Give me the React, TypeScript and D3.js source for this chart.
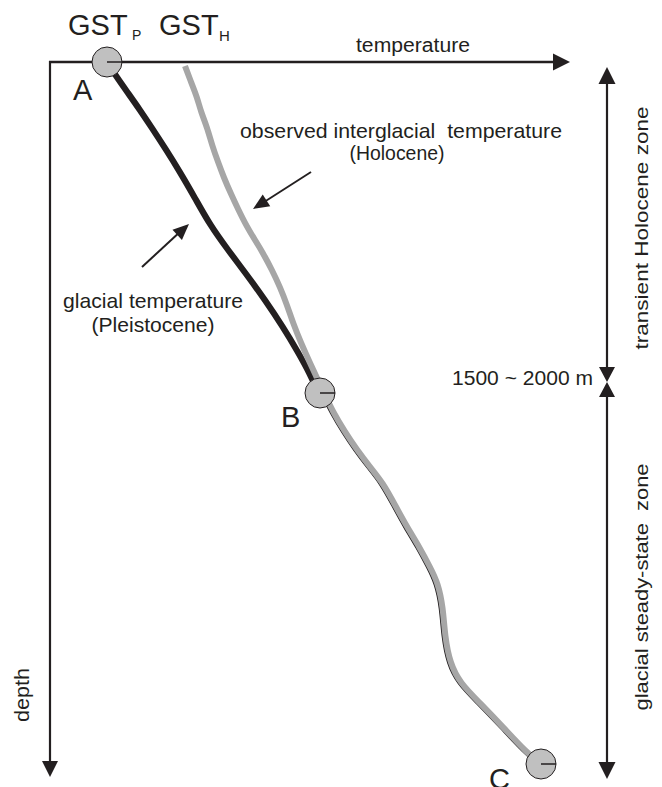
import React from 'react';
import * as d3 from 'd3';

// Schematic profile data (temperature units, depth units)
const holoceneTemp = [135, 141, 147, 151, 157, 162, 168, 174, 181, 188, 197, 205, 213, 222, 230, 237, 243, 251, 260, 268, 275, 283, 295, 307, 320, 333, 345, 357, 370, 380, 388, 393, 395, 400, 410, 430, 453, 477, 491];
const holoceneDepth = [4, 20, 35, 50, 65, 83, 100, 116, 132, 147, 165, 178, 191, 208, 225, 243, 261, 281, 301, 318, 333, 350, 370, 388, 405, 421, 443, 465, 486, 505, 521, 545, 575, 601, 621, 641, 665, 691, 702];
const pleistoceneTemp = [57, 66, 78, 90, 102, 115, 130, 145, 160, 178, 197, 215, 233, 248, 260, 268];
const pleistoceneDepth = [0, 14, 31, 48, 66, 86, 110, 136, 163, 188, 213, 238, 265, 290, 312, 330];
const stationNames = ['A', 'B', 'C'];
const stationTemp = [57, 270, 491];
const stationDepth = [0, 331, 702];
const zoneTop = 5;
const zoneBoundary = 320;
const zoneBottom = 717;
const boundaryLabel = '1500 ~ 2000 m';

const W = 662;
const H = 787;
const INK = '#231f20';
const FONT = '"Liberation Sans", Arial, Helvetica, sans-serif';

const x = d3.scaleLinear().domain([0, 520]).range([50, 570]);
const y = d3.scaleLinear().domain([0, 715]).range([62, 777]);

function head(tx: number, ty: number, fx: number, fy: number, len = 16, hw = 8) {
  const a = Math.atan2(ty - fy, tx - fx);
  const bx = tx - len * Math.cos(a);
  const by = ty - len * Math.sin(a);
  const px = -Math.sin(a) * hw;
  const py = Math.cos(a) * hw;
  return `${tx},${ty} ${bx + px},${by + py} ${bx - px},${by - py}`;
}

export default function App() {
  const line = d3
    .line<[number, number]>()
    .x((d) => x(d[0]))
    .y((d) => y(d[1]))
    .curve(d3.curveBasis);

  const holo: [number, number][] = holoceneTemp.map((t, i) => [t, holoceneDepth[i]]);
  const pleis: [number, number][] = pleistoceneTemp.map((t, i) => [t, pleistoceneDepth[i]]);
  const holoLower = holo.filter((d) => d[1] >= stationDepth[1] - 5);

  const ox = x(0);
  const oy = y(0);
  const xEnd = x(520);
  const yEnd = y(715);
  const zx = 607;
  const zTop = y(zoneTop);
  const zMid = y(zoneBoundary);
  const zBot = y(zoneBottom);

  const holoArrow = { fx: 311, fy: 172, tx: 253, ty: 209 };
  const pleiArrow = { fx: 142, fy: 267, tx: 189, ty: 224 };

  return (
    <svg width={W} height={H} style={{ position: 'absolute', left: 0, top: 0, background: '#fff' }} fontFamily={FONT}>
      <rect width={W} height={H} fill="#fff" />
      {/* axes */}
      <line x1={ox - 1} y1={oy} x2={xEnd - 14} y2={oy} stroke={INK} strokeWidth={2.6} />
      <polygon points={head(xEnd, oy, ox, oy, 17, 8.5)} fill={INK} />
      <line x1={ox} y1={oy - 1} x2={ox} y2={yEnd - 14} stroke={INK} strokeWidth={2.2} />
      <polygon points={head(ox, yEnd, ox, oy, 16, 8)} fill={INK} />
      <text x={356} y={52} fontSize={20} fill={INK} textLength={114} lengthAdjust="spacingAndGlyphs">temperature</text>
      <text transform={`translate(29,695) rotate(-90)`} textAnchor="middle" fontSize={20} fill={INK} textLength={54} lengthAdjust="spacingAndGlyphs">depth</text>

      {/* zone arrows */}
      <line x1={zx} y1={zTop + 14} x2={zx} y2={zMid - 14} stroke={INK} strokeWidth={2.2} />
      <polygon points={head(zx, zTop, zx, zMid, 17, 8.5)} fill={INK} />
      <polygon points={head(zx, zMid, zx, zTop, 15, 8)} fill={INK} />
      <polygon points={head(zx, zMid, zx, zBot, 15, 8)} fill={INK} />
      <line x1={zx} y1={zMid + 14} x2={zx} y2={zBot - 14} stroke={INK} strokeWidth={2.2} />
      <polygon points={head(zx, zBot, zx, zMid, 17, 8.5)} fill={INK} />
      <text x={593} y={385} textAnchor="end" fontSize={20} fill={INK} textLength={141} lengthAdjust="spacingAndGlyphs">{boundaryLabel}</text>
      <text transform={`translate(648,228) rotate(-90)`} textAnchor="middle" fontSize={19} fill={INK} textLength={243} lengthAdjust="spacingAndGlyphs">transient Holocene zone</text>
      <text transform={`translate(648,587) rotate(-90)`} textAnchor="middle" fontSize={19} fill={INK} textLength={247} lengthAdjust="spacingAndGlyphs" style={{ whiteSpace: 'pre' }}>glacial steady-state  zone</text>

      {/* curves */}
      <path d={line(holoLower) || ''} transform="translate(-2.8,0.6)" fill="none" stroke={INK} strokeWidth={2} />
      <path d={line(pleis) || ''} fill="none" stroke={INK} strokeWidth={6.2} strokeLinecap="round" />
      <path d={line(holo) || ''} fill="none" stroke="#a6a6a6" strokeWidth={6} />

      {/* stations */}
      {stationNames.map((n, i) => (
        <g key={n}>
          <circle cx={x(stationTemp[i])} cy={y(stationDepth[i])} r={15} fill="#c0c0c0" stroke={INK} strokeWidth={1} />
          <line x1={x(stationTemp[i])} y1={y(stationDepth[i])} x2={x(stationTemp[i]) + 15} y2={y(stationDepth[i])} stroke={INK} strokeWidth={1.5} />
        </g>
      ))}
      <text x={73} y={100} fontSize={29} fill={INK}>{stationNames[0]}</text>
      <text x={281} y={427} fontSize={29} fill={INK}>{stationNames[1]}</text>
      <text x={489} y={789} fontSize={29} fill={INK}>{stationNames[2]}</text>

      {/* GST labels */}
      <text x={68} y={35} fontSize={29} fill={INK}>GST</text>
      <text x={132} y={40} fontSize={14} fill={INK}>P</text>
      <text x={159} y={35} fontSize={29} fill={INK}>GST</text>
      <text x={219} y={41} fontSize={15} fill={INK}>H</text>

      {/* annotations */}
      <text x={240} y={138} fontSize={21} fill={INK} textLength={322} lengthAdjust="spacingAndGlyphs" style={{ whiteSpace: 'pre' }}>observed interglacial  temperature</text>
      <text x={397} y={160} textAnchor="middle" fontSize={21} fill={INK} textLength={95} lengthAdjust="spacingAndGlyphs">(Holocene)</text>
      <line x1={holoArrow.fx} y1={holoArrow.fy} x2={holoArrow.tx + 8} y2={holoArrow.ty - 5} stroke={INK} strokeWidth={2} />
      <polygon points={head(holoArrow.tx, holoArrow.ty, holoArrow.fx, holoArrow.fy, 16, 7)} fill={INK} />

      <text x={63} y={308} fontSize={21} fill={INK} textLength={180} lengthAdjust="spacingAndGlyphs">glacial temperature</text>
      <text x={153} y={332} textAnchor="middle" fontSize={21} fill={INK} textLength={123} lengthAdjust="spacingAndGlyphs">(Pleistocene)</text>
      <line x1={pleiArrow.fx} y1={pleiArrow.fy} x2={pleiArrow.tx - 7} y2={pleiArrow.ty + 6} stroke={INK} strokeWidth={2} />
      <polygon points={head(pleiArrow.tx, pleiArrow.ty, pleiArrow.fx, pleiArrow.fy, 16, 7)} fill={INK} />
    </svg>
  );
}
